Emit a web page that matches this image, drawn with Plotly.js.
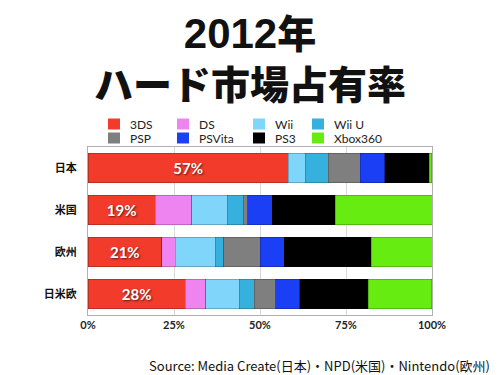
<!DOCTYPE html>
<html><head><meta charset="utf-8">
<script src="https://cdn.plot.ly/plotly-3.0.1.min.js"></script>
<style>html,body{margin:0;padding:0;background:#fff}#c{width:500px;height:375px}</style>
</head><body><div id="c"></div>
<script>
const regions = ['日本', '米国', '欧州', '日米欧'];
const seriesNames = ['3DS', 'DS', 'Wii', 'Wii U', 'PSP', 'PSVita', 'PS3', 'Xbox360'];
const colors = ['#f23b2b', '#ee84f0', '#7fd6fa', '#36b1de', '#7f7f7f', '#1b3ff5', '#000000', '#67ec12'];
const v3DS    = [58.2, 19.6, 21.4, 28.3];
const vDS     = [0.0, 10.5, 3.9, 5.9];
const vWii    = [5.1, 10.5, 11.8, 9.9];
const vWiiU   = [6.5, 4.6, 2.4, 4.2];
const vPSP    = [9.4, 1.3, 10.5, 6.3];
const vPSVita = [7.1, 7.0, 7.0, 7.0];
const vPS3    = [12.9, 18.4, 25.3, 19.9];
const vXbox   = [0.7, 28.2, 17.7, 18.4];
const labels3DS = ['57%', '19%', '21%', '28%'];
const xTicks = [0, 25, 50, 75, 100];
const xTickText = ['0%', '25%', '50%', '75%', '100%'];

const allVals = [v3DS, vDS, vWii, vWiiU, vPSP, vPSVita, vPS3, vXbox];

const L = 88, R = 432, T = 147, B = 315;
const px = p => (p - L) / (R - L);
const py = p => (B - p) / (B - T);

const traces = allVals.map((vals, i) => ({
  type: 'bar', orientation: 'h', name: seriesNames[i],
  x: vals, y: regions,
  marker: {color: colors[i], line: {color: 'rgba(0,0,0,0.35)', width: 0.6}},
  text: i === 0 ? labels3DS : undefined,
  textposition: i === 0 ? 'inside' : 'none',
  insidetextanchor: 'middle',
  textfont: {family: 'Lato, Noto Sans, sans-serif', size: 15, color: '#fff', weight: 'bold', shadow: '1px 1px 2px rgba(0,0,0,0.6)'},
  hoverinfo: 'x+name', showlegend: false
}));

// legend (2 rows x 4 columns)
const colX = [108, 177, 253, 312];
const rowY = [124, 138];
const shapes = [];
const annotations = [];
seriesNames.forEach((n, i) => {
  const c = i % 4, r = Math.floor(i / 4);
  shapes.push({type: 'rect', xref: 'paper', yref: 'paper',
    x0: px(colX[c]), x1: px(colX[c] + 12), y0: py(rowY[r] - 5.5), y1: py(rowY[r] + 5.5),
    fillcolor: colors[i], line: {width: 0}});
  annotations.push({xref: 'paper', yref: 'paper', x: px(colX[c] + 20), y: py(rowY[r]),
    xanchor: 'left', yanchor: 'middle', showarrow: false, text: n,
    font: {family: 'Lato, Noto Sans, sans-serif', size: 12, color: '#222'}});
});
annotations.push({xref: 'paper', yref: 'paper', x: px(250), y: py(57), xanchor: 'center', yanchor: 'middle',
  showarrow: false, borderpad: 0,
  text: '<span style="font-family:\'Liberation Sans\';font-weight:bold;font-size:42px">2012</span>年<br>ハード市場占有率',
  font: {family: 'Noto Sans CJK JP', size: 39, color: '#111', weight: 900}});
annotations.push({xref: 'paper', yref: 'paper', x: px(319), y: py(365), xanchor: 'center', yanchor: 'middle',
  showarrow: false, text: 'Source: Media Create(日本)・NPD(米国)・Nintendo(欧州)',
  font: {family: 'Noto Sans CJK JP', size: 13, color: '#111'}});

const layout = {
  width: 500, height: 375,
  margin: {l: L, r: 500 - R, t: T, b: 375 - B, pad: 0},
  paper_bgcolor: '#fff', plot_bgcolor: '#fff',
  barmode: 'stack', bargap: 0.29,
  showlegend: false,
  xaxis: {range: [0, 100], tickvals: xTicks, ticktext: xTickText, showgrid: true, gridcolor: '#d8d8d8',
    showline: true, mirror: true, linecolor: '#b0b0b0', linewidth: 1, zeroline: false, ticks: '',
    tickfont: {family: 'Lato, Noto Sans, sans-serif', size: 11, color: '#222', weight: 'bold'}, fixedrange: true},
  yaxis: {autorange: 'reversed', showline: true, mirror: true, linecolor: '#b0b0b0', linewidth: 1, ticks: '',
    ticklabelstandoff: 8,
    tickfont: {family: 'Noto Sans CJK JP', size: 11, color: '#111', weight: 'bold'}, fixedrange: true},
  shapes: shapes, annotations: annotations
};
Plotly.newPlot('c', traces, layout, {displayModeBar: false, staticPlot: true});
</script></body></html>
